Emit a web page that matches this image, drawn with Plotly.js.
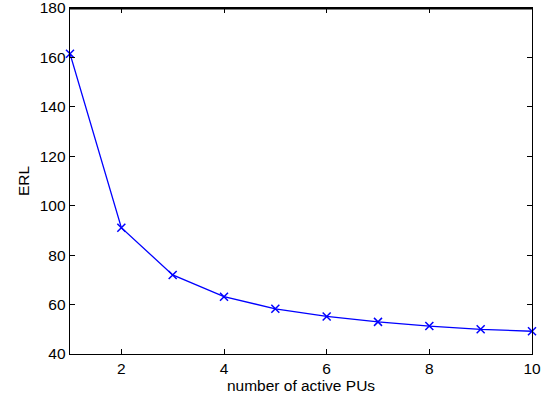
<!DOCTYPE html>
<html><head><meta charset="utf-8">
<script src="https://cdn.plot.ly/plotly-3.0.1.min.js"></script>
<style>html,body{margin:0;padding:0;background:#fff;overflow:hidden;}#c{width:553px;height:405px;}</style>
</head><body><div id="c"></div>
<script>
const activePUs = [1, 2, 3, 4, 5, 6, 7, 8, 9, 10];
const erl = [161.5, 91.1, 72.0, 63.2, 58.3, 55.2, 53.0, 51.3, 50.0, 49.2];
const xTicks = [2, 4, 6, 8, 10];
const yTicks = [40, 60, 80, 100, 120, 140, 160, 180];

const font = {family: 'Liberation Sans, Arial, sans-serif', size: 15.5, color: '#000'};
const axisCommon = {
  showgrid: false, zeroline: false, showline: true, linecolor: '#000', linewidth: 1.3,
  mirror: 'ticks', ticks: 'inside', ticklen: 5, tickwidth: 1, tickcolor: '#000',
  tickfont: font, tickmode: 'array', ticklabeloverflow: 'allow'
};
Plotly.newPlot('c', [{
  x: activePUs, y: erl, type: 'scatter', mode: 'lines+markers',
  line: {color: '#0000ff', width: 1.3},
  marker: {symbol: 'x-thin', size: 8, color: '#0000ff', line: {color: '#0000ff', width: 1.5}},
  cliponaxis: false
}], {
  width: 553, height: 405,
  margin: {l: 70, r: 21, t: 8, b: 51},
  paper_bgcolor: '#fff', plot_bgcolor: '#fff',
  showlegend: false,
  xaxis: Object.assign({}, axisCommon, {range: [1, 10], tickvals: xTicks, ticktext: xTicks.map(String),
    title: {text: 'number of active PUs', font: font, standoff: 3}}),
  yaxis: Object.assign({}, axisCommon, {range: [40, 180], tickvals: yTicks, ticktext: yTicks.map(String),
    title: {text: 'ERL', font: font, standoff: 6}}),
  shapes: [{type: 'line', xref: 'paper', yref: 'paper', x0: 0, x1: 1, y0: 0.998, y1: 0.998,
    line: {color: '#000', width: 1.4}, layer: 'above'}]
}, {staticPlot: true});
</script></body></html>
